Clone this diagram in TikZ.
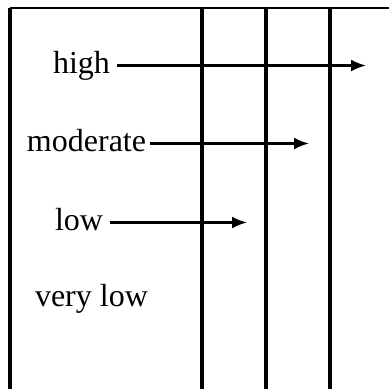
\documentclass[tikz,border=0pt]{standalone}
\usepackage{fontspec}
\setmainfont{Liberation Serif}
\usetikzlibrary{arrows.meta}
\begin{document}
\begin{tikzpicture}[x=1pt,y=-1pt,
  frame/.style={line width=3.2pt},
  topline/.style={line width=2.4pt},
  lbl/.style={anchor=base west,inner xsep=0pt,inner ysep=0pt,outer sep=0pt,
    text height=22pt,text depth=7pt,font=\fontsize{32}{38}\selectfont},
  levelarrow/.style={line width=2.4pt,-{Latex[length=15pt,width=12pt]},shorten <=7pt}]
\useasboundingbox (0,0) rectangle (389,389);
% frame
\coordinate (tl) at (10,8);
\coordinate (tr) at (389,8);
\coordinate (bl) at (10,389);
\draw[topline] (tr) -- (tl);
\draw[frame] (tl) -- (bl);
\draw[frame] (202,8) -- (202,389);
\draw[frame] (266,8) -- (266,389);
\draw[frame] (330,8) -- (330,389);
% labels
\node[lbl] (high) at (53,73) {high};
\node[lbl] (moderate) at (27,151) {moderate};
\node[lbl] (low) at (55,230) {low};
\node[lbl] (verylow) at (35,306) {very low};
% arrow ends
\coordinate (highend) at (366,65);
\coordinate (modend) at (309,143);
\coordinate (lowend) at (247,222);
\draw[levelarrow] (high.east) -- (high.east -| highend);
\draw[levelarrow,shorten <=4pt] (moderate.east) -- (moderate.east -| modend);
\draw[levelarrow] (low.east) -- (low.east -| lowend);
\end{tikzpicture}
\end{document}
